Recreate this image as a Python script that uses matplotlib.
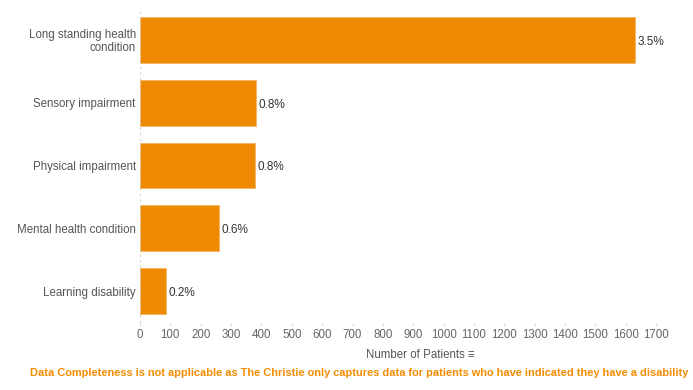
import matplotlib.pyplot as plt
import numpy as np

plt.rcParams['font.family'] = ['Liberation Sans', 'DejaVu Sans']

categories = ['Long standing health\ncondition', 'Sensory impairment',
              'Physical impairment', 'Mental health condition',
              'Learning disability']
patients = [1630, 382, 379, 260, 86]
pct_labels = ['3.5%', '0.8%', '0.8%', '0.6%', '0.2%']
xticks = list(range(0, 1800, 100))

bar_color = '#ee8a00'
fig = plt.figure(figsize=(6.93, 3.90), dpi=100)
ax = fig.add_axes([0.202, 0.173, 0.78, 0.805])

y = np.arange(len(categories))
ax.barh(y, patients, height=0.73, color=bar_color, edgecolor='#f6b461', linewidth=0.6)
for yi, v, lab in zip(y, patients, pct_labels):
    ax.text(v + 8, yi + 0.03, lab, va='center', ha='left', fontsize=8.5, color='#333333')

ax.set_ylim(len(categories) - 0.5, -0.5)
ax.set_xlim(0, 1780)
ax.set_yticks(y)
ax.set_yticklabels(categories, fontsize=8.3, color='#555555', linespacing=1.05)
ax.set_xticks(xticks)
ax.set_xticklabels([str(t) for t in xticks], fontsize=8.3, color='#666666')
ax.tick_params(axis='y', length=0, pad=3)
ax.tick_params(axis='x', length=2, color='#dddddd', pad=3)
for s in ax.spines.values():
    s.set_visible(False)
ax.axvline(0, color='#cccccc', ls=':', lw=1.5)

ax.set_xlabel('Number of Patients \u2261', fontsize=8.3, color='#555555')
ax.xaxis.set_label_coords(0.518, -0.085)
fig.text(0.518, 0.043, 'Data Completeness is not applicable as The Christie only captures data for patients who have indicated they have a disability',
         ha='center', va='center', fontsize=7.95, fontweight='bold', color='#f28c00')

fig.savefig('out.png', dpi=100)
